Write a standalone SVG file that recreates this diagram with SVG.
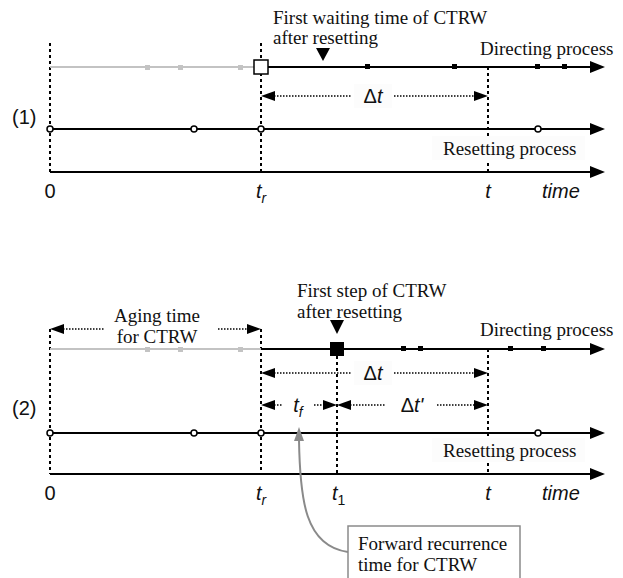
<svg xmlns="http://www.w3.org/2000/svg" width="623" height="578" viewBox="0 0 623 578">
<style>
.ax{stroke:#000;stroke-width:2;fill:none}
.gr{stroke:#c3c3c3;stroke-width:2;fill:none}
.vd{stroke:#000;stroke-width:2;stroke-dasharray:3 3;fill:none}
.hd{stroke:#000;stroke-width:1.5;stroke-dasharray:1.5 1.5;fill:none}
.ci{fill:#fff;stroke:#000;stroke-width:1.5}
.gm{fill:#c3c3c3}
.bm{fill:#000}
.bg{fill:#fcfcfc}
.ser{font-family:"Liberation Serif",serif;font-size:19px;fill:#111}
.san{font-family:"Liberation Sans",Arial,sans-serif;font-size:20px;fill:#111}
.it{font-style:italic}
.up{font-style:normal}
.sub{font-size:14px}
</style>
<defs>
<marker id="ah" markerUnits="userSpaceOnUse" markerWidth="16" markerHeight="14" refX="0" refY="6" orient="auto"><path d="M0,0 L15,6 L0,12 z" fill="#000"/></marker>
</defs>
<rect width="623" height="578" fill="#fff"/>

<g id="connectors">
<!-- Panel 1 -->
<line class="vd" x1="50" y1="43" x2="50" y2="172"/>
<line class="vd" x1="261" y1="43" x2="261" y2="172"/>
<line class="vd" x1="488" y1="67" x2="488" y2="172"/>
<line class="gr" x1="50" y1="67" x2="254" y2="67"/>
<line class="ax" x1="268" y1="67" x2="590" y2="67" marker-end="url(#ah)"/>
<line class="ax" x1="50" y1="129" x2="590" y2="129" marker-end="url(#ah)"/>
<line class="ax" x1="50" y1="172" x2="590" y2="172" marker-end="url(#ah)"/>
<line class="hd" x1="274" y1="96" x2="352" y2="96"/>
<line class="hd" x1="394" y1="96" x2="475" y2="96"/>
<polygon points="261,96 275,91 275,101" fill="#000"/>
<polygon points="488,96 474,91 474,101" fill="#000"/>

<!-- Panel 2 -->
<line class="vd" x1="50" y1="329" x2="50" y2="474"/>
<line class="vd" x1="261" y1="329" x2="261" y2="474"/>
<line class="vd" x1="337" y1="356" x2="337" y2="474"/>
<line class="vd" x1="488" y1="349" x2="488" y2="474"/>
<line class="gr" x1="50" y1="349" x2="261" y2="349"/>
<line class="ax" x1="261" y1="349" x2="590" y2="349" marker-end="url(#ah)"/>
<line class="ax" x1="50" y1="433" x2="590" y2="433" marker-end="url(#ah)"/>
<line class="ax" x1="50" y1="474" x2="590" y2="474" marker-end="url(#ah)"/>
<!-- aging -->
<line class="hd" x1="63" y1="329" x2="104" y2="329"/>
<line class="hd" x1="218" y1="329" x2="248" y2="329"/>
<polygon points="50,329 64,324 64,334" fill="#000"/>
<polygon points="261,329 247,324 247,334" fill="#000"/>
<!-- delta t -->
<line class="hd" x1="274" y1="373" x2="352" y2="373"/>
<line class="hd" x1="394" y1="373" x2="475" y2="373"/>
<polygon points="261,373 275,368 275,378" fill="#000"/>
<polygon points="488,373 474,368 474,378" fill="#000"/>
<!-- t_f -->
<line class="hd" x1="274" y1="405" x2="283" y2="405"/>
<line class="hd" x1="314" y1="405" x2="324" y2="405"/>
<polygon points="261,405 275,400 275,410" fill="#000"/>
<polygon points="337,405 323,400 323,410" fill="#000"/>
<!-- delta t' -->
<line class="hd" x1="350" y1="405" x2="386" y2="405"/>
<line class="hd" x1="437" y1="405" x2="475" y2="405"/>
<polygon points="337,405 351,400 351,410" fill="#000"/>
<polygon points="488,405 474,400 474,410" fill="#000"/>
<!-- forward recurrence pointer -->
<path d="M348,552 C305,546 300,500 299,440" fill="none" stroke="#8a8a8a" stroke-width="2"/>
<polygon points="299,427 294,441 304,441" fill="#8a8a8a"/>
</g>

<g id="panel1-directing">
<rect class="gm" x="145" y="65" width="5" height="5"/>
<rect class="gm" x="178" y="65" width="5" height="5"/>
<rect class="gm" x="238" y="65" width="5" height="5"/>
<rect x="254" y="60" width="14" height="14" fill="#fff" stroke="#000" stroke-width="1.5"/>
<rect class="bm" x="365" y="64" width="5" height="5"/>
<rect class="bm" x="452" y="64" width="5" height="5"/>
<rect class="bm" x="535" y="64" width="5" height="5"/>
<rect class="bm" x="562" y="64" width="5" height="5"/>
<polygon points="316,48 330,48 323,61" fill="#000"/>
<text class="ser" x="273" y="24" font-size="18.5">First waiting time of CTRW</text>
<text class="ser" x="273" y="44" font-size="18.5">after resetting</text>
<text class="ser" x="480" y="55">Directing process</text>
</g>

<g id="panel1-resetting">
<circle class="ci" cx="50" cy="129" r="3"/>
<circle class="ci" cx="194" cy="129" r="3"/>
<circle class="ci" cx="261" cy="129" r="3"/>
<circle class="ci" cx="538" cy="129" r="3"/>
<rect class="bg" x="432" y="136" width="153" height="24"/>
<text class="ser" x="443" y="155">Resetting process</text>
</g>

<g id="panel1-labels">
<text class="san" x="12" y="124">(1)</text>
<rect class="bg" x="354" y="84" width="38" height="24"/>
<text class="san" x="373" y="103" text-anchor="middle">Δ<tspan class="it">t</tspan></text>
<text class="san" x="50" y="198" text-anchor="middle">0</text>
<text class="san it" x="256" y="198">t<tspan class="sub" dy="5">r</tspan></text>
<text class="san it" x="488" y="198" text-anchor="middle">t</text>
<text class="san it" x="542" y="198">time</text>
</g>

<g id="panel2-directing">
<rect class="gm" x="145" y="347" width="5" height="5"/>
<rect class="gm" x="178" y="347" width="5" height="5"/>
<rect class="gm" x="238" y="347" width="5" height="5"/>
<rect class="bm" x="330" y="342" width="14" height="14"/>
<rect class="bm" x="401" y="346" width="5" height="5"/>
<rect class="bm" x="418" y="346" width="5" height="5"/>
<rect class="bm" x="508" y="346" width="5" height="5"/>
<rect class="bm" x="541" y="346" width="5" height="5"/>
<polygon points="330,320 344,320 337,334" fill="#000"/>
<text class="ser" x="297" y="297">First step of CTRW</text>
<text class="ser" x="297" y="318">after resetting</text>
<text class="ser" x="480" y="336">Directing process</text>
<text class="ser" x="157" y="322" text-anchor="middle">Aging time</text>
<text class="ser" x="157" y="343" text-anchor="middle">for CTRW</text>
</g>

<g id="panel2-resetting">
<circle class="ci" cx="50" cy="433" r="3"/>
<circle class="ci" cx="194" cy="433" r="3"/>
<circle class="ci" cx="261" cy="433" r="3"/>
<circle class="ci" cx="538" cy="433" r="3"/>
<rect class="bg" x="432" y="438" width="153" height="24"/>
<text class="ser" x="443" y="457">Resetting process</text>
</g>

<g id="panel2-labels">
<text class="san" x="12" y="415">(2)</text>
<rect class="bg" x="354" y="361" width="38" height="24"/>
<text class="san" x="373" y="380" text-anchor="middle">Δ<tspan class="it">t</tspan></text>
<text class="san it" x="298" y="412" text-anchor="middle">t<tspan class="sub" dy="5">f</tspan></text>
<text class="san" x="412" y="412" text-anchor="middle">Δ<tspan class="it">t'</tspan></text>
<text class="san" x="50" y="500" text-anchor="middle">0</text>
<text class="san it" x="256" y="500">t<tspan class="sub" dy="5">r</tspan></text>
<text class="san it" x="332" y="500">t<tspan class="sub up" dy="5">1</tspan></text>
<text class="san it" x="488" y="500" text-anchor="middle">t</text>
<text class="san it" x="542" y="500">time</text>
</g>

<g id="forward-recurrence-note">
<rect x="348" y="526" width="172" height="60" fill="#fff" stroke="#8a8a8a" stroke-width="1.5"/>
<text class="ser" x="358" y="550">Forward recurrence</text>
<text class="ser" x="358" y="571">time for CTRW</text>
</g>
</svg>
